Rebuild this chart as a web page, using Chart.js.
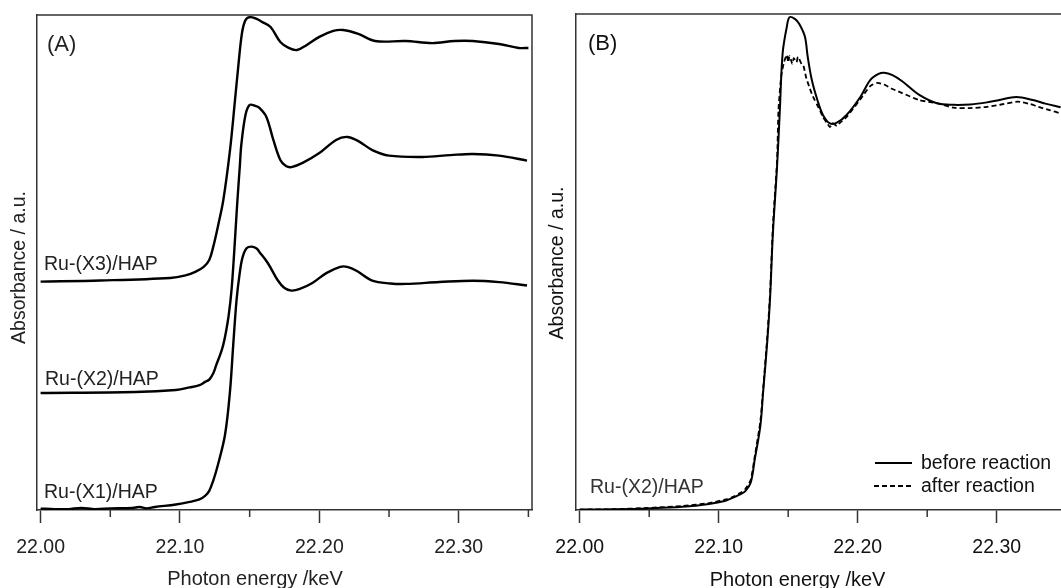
<!DOCTYPE html>
<html>
<head>
<meta charset="utf-8">
<script src="https://cdn.jsdelivr.net/npm/chart.js@4.4.0/dist/chart.umd.min.js"></script>
<style>
  body { margin: 0; background: #fff; }
  #wrap { position: relative; width: 1061px; height: 588px; overflow: hidden; }
  #chartA { position: absolute; left: 0; top: 0; }
  #chartB { position: absolute; left: 540px; top: 0; }
</style>
</head>
<body>
<div id="wrap">
  <canvas id="chartA" width="540" height="588"></canvas>
  <canvas id="chartB" width="521" height="588"></canvas>
</div>
<script>
// tick labels (keV)
const xTicks = [22.00, 22.10, 22.20, 22.30];
const xMinorTicks = [22.05, 22.15, 22.25, 22.35];

// panel A : stacked spectra (a.u.)
const energyX3 = [22.000, 22.043, 22.093, 22.104, 22.111, 22.117, 22.121, 22.1239, 22.1273, 22.1311, 22.1359, 22.1395, 22.1418, 22.1445, 22.1470, 22.1502, 22.155, 22.159, 22.165, 22.172, 22.178, 22.184, 22.191, 22.200, 22.210, 22.217, 22.228, 22.240, 22.262, 22.281, 22.297, 22.310, 22.329, 22.343, 22.350];
const absX3 = [0.993, 0.998, 1.009, 1.020, 1.035, 1.057, 1.087, 1.145, 1.235, 1.348, 1.565, 1.783, 1.927, 2.074, 2.130, 2.143, 2.135, 2.122, 2.100, 2.035, 2.009, 2.000, 2.022, 2.057, 2.083, 2.087, 2.070, 2.039, 2.039, 2.030, 2.039, 2.039, 2.026, 2.009, 2.009];

const energyX2 = [22.000, 22.068, 22.097, 22.107, 22.114, 22.118, 22.121, 22.124, 22.126, 22.129, 22.131, 22.133, 22.135, 22.137, 22.139, 22.141, 22.143, 22.144, 22.147, 22.150, 22.154, 22.157, 22.162, 22.167, 22.172, 22.176, 22.180, 22.188, 22.200, 22.212, 22.220, 22.228, 22.238, 22.250, 22.274, 22.294, 22.310, 22.329, 22.349];
const absX2 = [0.509, 0.513, 0.522, 0.533, 0.543, 0.557, 0.567, 0.596, 0.630, 0.678, 0.717, 0.774, 0.848, 0.957, 1.130, 1.326, 1.500, 1.587, 1.717, 1.761, 1.757, 1.748, 1.709, 1.609, 1.522, 1.496, 1.491, 1.509, 1.552, 1.609, 1.622, 1.604, 1.565, 1.541, 1.535, 1.543, 1.548, 1.541, 1.519];

const energyX1 = [22.000, 22.010, 22.020, 22.029, 22.039, 22.050, 22.066, 22.071, 22.076, 22.082, 22.097, 22.107, 22.114, 22.118, 22.121, 22.124, 22.127, 22.1323, 22.1359, 22.1382, 22.1406, 22.1427, 22.1448, 22.1478, 22.1514, 22.155, 22.157, 22.163, 22.170, 22.175, 22.180, 22.186, 22.195, 22.205, 22.215, 22.220, 22.227, 22.238, 22.251, 22.262, 22.286, 22.310, 22.329, 22.349];
const absX1 = [0.006, 0.004, 0.004, 0.009, 0.004, 0.007, 0.009, 0.013, 0.007, 0.013, 0.024, 0.035, 0.046, 0.061, 0.083, 0.130, 0.191, 0.326, 0.517, 0.717, 0.913, 1.022, 1.096, 1.138, 1.145, 1.137, 1.122, 1.074, 1.000, 0.965, 0.954, 0.961, 0.987, 1.030, 1.057, 1.057, 1.039, 0.997, 0.985, 0.983, 0.991, 0.997, 0.991, 0.976];

// panel B : Ru-(X2)/HAP before / after reaction (normalised)
const energyBefore = [22.000, 22.025, 22.049, 22.074, 22.093, 22.105, 22.110, 22.115, 22.119, 22.123, 22.126, 22.130, 22.132, 22.135, 22.137, 22.139, 22.142, 22.144, 22.146, 22.149, 22.151, 22.155, 22.158, 22.162, 22.164, 22.167, 22.171, 22.175, 22.180, 22.185, 22.192, 22.202, 22.209, 22.215, 22.219, 22.225, 22.232, 22.244, 22.257, 22.269, 22.281, 22.293, 22.302, 22.314, 22.326, 22.335, 22.346];
const absBefore = [0.001, 0.002, 0.004, 0.008, 0.015, 0.023, 0.030, 0.038, 0.046, 0.067, 0.126, 0.208, 0.292, 0.417, 0.525, 0.682, 0.846, 0.985, 1.125, 1.190, 1.214, 1.209, 1.197, 1.166, 1.117, 1.059, 1.010, 0.973, 0.952, 0.954, 0.973, 1.018, 1.059, 1.074, 1.077, 1.071, 1.056, 1.023, 1.002, 0.998, 0.999, 1.004, 1.010, 1.017, 1.010, 1.001, 0.992];

const energyAfter = [22.000, 22.025, 22.049, 22.074, 22.093, 22.105, 22.110, 22.115, 22.119, 22.123, 22.126, 22.130, 22.132, 22.135, 22.137, 22.139, 22.142, 22.143, 22.145, 22.147, 22.149, 22.150, 22.151, 22.153, 22.154, 22.156, 22.157, 22.160, 22.161, 22.163, 22.165, 22.167, 22.169, 22.171, 22.173, 22.175, 22.178, 22.180, 22.182, 22.185, 22.187, 22.192, 22.202, 22.209, 22.214, 22.219, 22.225, 22.232, 22.244, 22.257, 22.269, 22.281, 22.293, 22.302, 22.315, 22.324, 22.330, 22.338, 22.346];
const absAfter = [0.001, 0.002, 0.005, 0.010, 0.017, 0.026, 0.032, 0.041, 0.051, 0.074, 0.133, 0.219, 0.300, 0.429, 0.537, 0.700, 0.862, 0.985, 1.069, 1.103, 1.121, 1.103, 1.118, 1.099, 1.113, 1.103, 1.116, 1.096, 1.094, 1.064, 1.044, 1.025, 1.010, 0.997, 0.983, 0.968, 0.953, 0.943, 0.953, 0.946, 0.953, 0.968, 1.012, 1.044, 1.052, 1.048, 1.037, 1.027, 1.010, 1.002, 0.991, 0.990, 0.993, 0.998, 1.006, 1.000, 0.993, 0.985, 0.977];

const FONT = '"Liberation Sans", Arial, sans-serif';

function toPoints(xs, ys) {
  const n = Math.min(xs.length, ys.length);
  const pts = [];
  for (let i = 0; i < n; i++) pts.push({ x: xs[i], y: ys[i] });
  return pts;
}

function lineSet(label, xs, ys, dash, width, tension) {
  return {
    label: label,
    data: toPoints(xs, ys),
    borderColor: "#000",
    borderWidth: width,
    borderDash: dash,
    pointRadius: 0,
    fill: false,
    tension: tension,
  };
}

function xAxis(min, max, color) {
  return {
    type: "linear",
    min: min,
    max: max,
    afterBuildTicks: (s) => { s.ticks = xTicks.map((v) => ({ value: v })); },
    afterFit: (s) => { s.height = 78; },
    ticks: {
      callback: (v) => Number(v).toFixed(2),
      font: { family: FONT, size: 19.5 },
      color: color,
      padding: 13,
      maxRotation: 0,
      autoSkip: false,
    },
    grid: { display: true, drawOnChartArea: false, tickLength: 13, tickColor: "#333", tickWidth: 1.5 },
    border: { display: true, color: "#333", width: 1.5 },
  };
}

function yAxis(max, width) {
  return {
    min: 0,
    max: max,
    afterFit: (s) => { s.width = width; },
    ticks: { display: false },
    grid: { display: false },
    border: { display: true, color: "#333", width: 1.5 },
  };
}

// frame, minor ticks, titles and labels
function decorPlugin(cfg) {
  return {
    id: "decor",
    afterDraw(chart) {
      const ctx = chart.ctx;
      const area = chart.chartArea;
      const xs = chart.scales.x;
      ctx.save();
      ctx.strokeStyle = "#333";
      ctx.lineWidth = 1.5;
      ctx.beginPath();
      ctx.moveTo(area.left, area.top);
      ctx.lineTo(cfg.closeRight ? area.right : chart.width, area.top);
      if (cfg.closeRight) ctx.lineTo(area.right, area.bottom);
      ctx.stroke();

      xMinorTicks.forEach((v) => {
        const px = xs.getPixelForValue(v);
        if (px > chart.width) return;
        ctx.beginPath();
        ctx.moveTo(px, area.bottom);
        ctx.lineTo(px, area.bottom + 7);
        ctx.stroke();
      });

      ctx.fillStyle = cfg.textColor;
      ctx.font = "20px " + FONT;
      ctx.textAlign = "center";
      ctx.textBaseline = "middle";
      ctx.fillText("Photon energy /keV", cfg.xTitle[0], cfg.xTitle[1]);

      ctx.font = "19.5px " + FONT;
      ctx.save();
      ctx.translate(cfg.yTitle[0], cfg.yTitle[1]);
      ctx.rotate(-Math.PI / 2);
      ctx.fillText("Absorbance / a.u.", 0, 0);
      ctx.restore();

      ctx.textAlign = "left";
      ctx.textBaseline = "alphabetic";
      ctx.font = "22px " + FONT;
      ctx.fillText(cfg.panel[0], cfg.panel[1], cfg.panel[2]);

      ctx.font = "19.5px " + FONT;
      cfg.labels.forEach((l) => {
        ctx.fillStyle = l[3] || cfg.textColor;
        ctx.fillText(l[0], l[1], l[2]);
      });

      if (cfg.legend) {
        ctx.fillStyle = cfg.textColor;
        cfg.legend.forEach((item) => {
          ctx.beginPath();
          ctx.lineWidth = 2;
          ctx.setLineDash(item.dash);
          ctx.moveTo(item.x0, item.y);
          ctx.lineTo(item.x1, item.y);
          ctx.strokeStyle = "#000";
          ctx.stroke();
          ctx.setLineDash([]);
          ctx.textBaseline = "middle";
          ctx.fillText(item.text, item.tx, item.y + 1);
        });
      }
      ctx.restore();
    },
  };
}

const baseOptions = {
  responsive: false,
  animation: false,
  devicePixelRatio: 1,
  plugins: { legend: { display: false }, tooltip: { enabled: false } },
};

new Chart(document.getElementById("chartA").getContext("2d"), {
  type: "line",
  data: {
    datasets: [
      lineSet("Ru-(X3)/HAP", energyX3, absX3, [], 2.4, 0.35),
      lineSet("Ru-(X2)/HAP", energyX2, absX2, [], 2.4, 0.35),
      lineSet("Ru-(X1)/HAP", energyX1, absX1, [], 2.4, 0.35),
    ],
  },
  options: Object.assign({}, baseOptions, {
    layout: { padding: { top: 15, right: 8, left: 0, bottom: 0 } },
    scales: {
      x: xAxis(21.99742, 22.35258, "#222"),
      y: yAxis(2.1522, 37),
    },
  }),
  plugins: [decorPlugin({
    closeRight: true,
    textColor: "#222",
    xTitle: [255, 579],
    yTitle: [19.5, 267.5],
    panel: ["(A)", 47, 51],
    labels: [
      ["Ru-(X3)/HAP", 44, 270],
      ["Ru-(X2)/HAP", 45, 385],
      ["Ru-(X1)/HAP", 44, 498],
    ],
  })],
});

new Chart(document.getElementById("chartB").getContext("2d"), {
  type: "line",
  data: {
    datasets: [
      lineSet("before reaction", energyBefore, absBefore, [], 2, 0.35),
      lineSet("after reaction", energyAfter, absAfter, [5, 3], 1.8, 0.2),
    ],
  },
  options: Object.assign({}, baseOptions, {
    layout: { padding: { top: 14, right: 0, left: 0, bottom: 0 } },
    scales: {
      x: xAxis(21.99734, 22.34626, "#111"),
      y: yAxis(1.2217, 36),
    },
  }),
  plugins: [decorPlugin({
    closeRight: false,
    textColor: "#111",
    xTitle: [257.6, 580],
    yTitle: [18, 263],
    panel: ["(B)", 48, 50],
    labels: [["Ru-(X2)/HAP", 50, 493, "#333"]],
    legend: [
      { text: "before reaction", dash: [], x0: 335, x1: 372, y: 463, tx: 381 },
      { text: "after reaction", dash: [5, 3], x0: 334, x1: 373, y: 486, tx: 381 },
    ],
  })],
});
</script>
</body>
</html>
